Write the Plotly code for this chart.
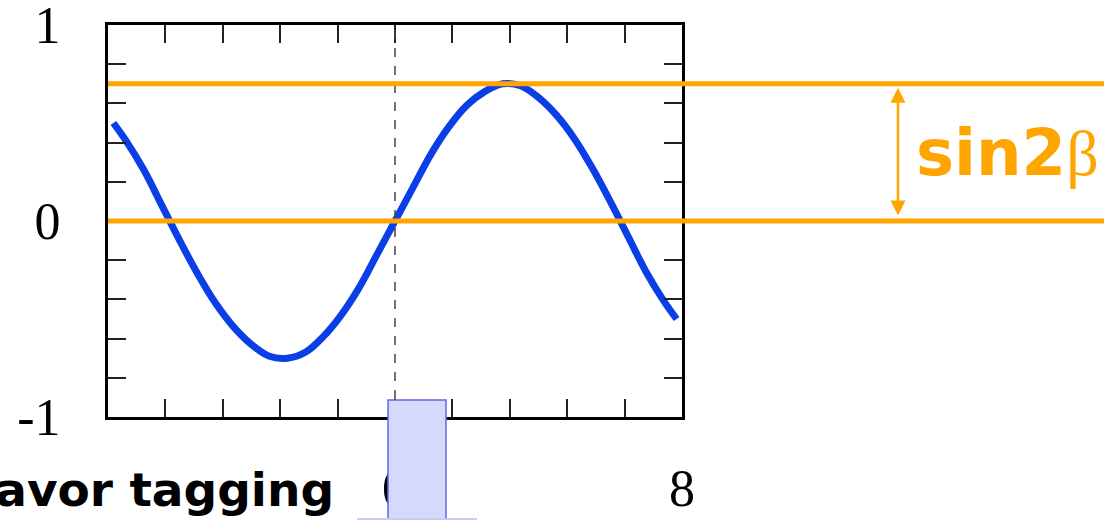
import plotly.graph_objects as go

# Time-dependent asymmetry curve (Δt in ps vs. asymmetry)
delta_t = [-7.85, -7.5, -7.0, -6.5, -6.0, -5.5, -5.0, -4.5, -4.0, -3.5, -3.0,
           -2.5, -2.0, -1.5, -1.0, -0.5, 0.0, 0.5, 1.0, 1.5, 2.0, 2.5, 3.0,
           3.5, 4.0, 4.5, 5.0, 5.5, 6.0, 6.5, 7.0, 7.5, 7.85]
asymmetry = [0.50, 0.41, 0.26, 0.08, -0.10, -0.27, -0.42, -0.54, -0.63, -0.69,
             -0.70, -0.67, -0.59, -0.48, -0.34, -0.17, 0.0, 0.17, 0.34, 0.48,
             0.59, 0.66, 0.70, 0.69, 0.63, 0.54, 0.42, 0.27, 0.10, -0.08,
             -0.26, -0.41, -0.50]

sin2beta = 0.70

y_tick_vals = [1, 0, -1]
y_tick_text = ["1", "0", "-1"]
x_tick_vals = [0, 8]
x_tick_text = ["0", "8"]

W, H = 1104, 520
L, R, T, B = 108, 422, 25, 103
PW, PH = W - L - R, H - T - B


def px(xpix):
    return (xpix - L) / PW


def py(ypix):
    return (H - B - ypix) / PH


ORANGE = "#FFA500"
SERIF = "Liberation Serif"
TICK = "#222"

fig = go.Figure()
fig.add_trace(go.Scatter(
    x=delta_t, y=asymmetry, mode="lines",
    line=dict(color="#0a3ee6", width=7, shape="spline"),
    hoverinfo="skip", showlegend=False,
))

axis_common = dict(
    showline=True, linecolor="black", linewidth=3, mirror="allticks",
    ticks="inside", ticklen=18, tickwidth=2, tickcolor=TICK,
    showgrid=False, zeroline=False, automargin=False,
    ticklabeloverflow="allow",
    tickfont=dict(family=SERIF, size=52, color="black"),
)

fig.update_layout(
    width=W, height=H,
    margin=dict(l=L, r=R, t=T, b=B),
    paper_bgcolor="white", plot_bgcolor="white",
    xaxis=dict(range=[-8, 8], tickvals=x_tick_vals, ticktext=x_tick_text,
               minor=dict(tick0=0, dtick=1.6, ticks="inside", ticklen=18,
                          tickwidth=2, tickcolor=TICK),
               ticklabelstandoff=24, **axis_common),
    yaxis=dict(range=[-1, 1], tickvals=y_tick_vals, ticktext=y_tick_text,
               minor=dict(tick0=0, dtick=0.2, ticks="inside", ticklen=18,
                          tickwidth=2, tickcolor=TICK),
               ticklabelstandoff=34, **axis_common),
)

# Δt = 0 reference
fig.add_shape(type="line", xref="x", yref="y", x0=0, x1=0, y0=-1, y1=1,
              line=dict(color="#444", width=1.5, dash="dash"), layer="above")

# sin2β level lines, running out to the right edge
for level in (sin2beta, 0.0):
    fig.add_shape(type="line", xref="paper", yref="y", x0=0, x1=px(W),
                  y0=level, y1=level, line=dict(color=ORANGE, width=5),
                  layer="above")

# double-headed arrow spanning the amplitude
fig.add_annotation(xref="x domain", yref="y", x=px(898), y=sin2beta - 0.02,
                   axref="x domain", ayref="y", ax=px(898), ay=0.02,
                   showarrow=True, arrowhead=2, arrowside="end+start",
                   arrowsize=1.2, arrowwidth=2.5, arrowcolor=ORANGE, text="")

fig.add_annotation(xref="paper", yref="paper", x=px(914), y=py(153),
                   xanchor="left", yanchor="middle", showarrow=False,
                   text="<b>sin2</b><span style='font-family:Liberation Serif;font-weight:normal'>β</span>",
                   font=dict(family="DejaVu Sans", size=64, color=ORANGE))

# flavor-tagging box
fig.add_shape(type="rect", xref="paper", yref="paper",
              x0=px(388), x1=px(446), y0=py(530), y1=py(400),
              fillcolor="#d5d9fb", line=dict(color="#6464e6", width=1.5),
              layer="above")
fig.add_shape(type="line", xref="paper", yref="paper",
              x0=px(357), x1=px(477), y0=py(519), y1=py(519),
              line=dict(color="#c8ccf5", width=2), layer="above")

fig.add_annotation(xref="paper", yref="paper", x=px(336), y=py(489),
                   xanchor="right", yanchor="middle", showarrow=False,
                   text="<b>Flavor tagging</b>",
                   font=dict(family="DejaVu Sans", size=47, color="black"))

fig.write_html("out.html")
